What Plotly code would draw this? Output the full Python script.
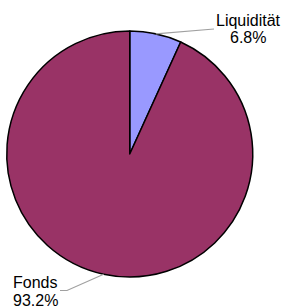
import math
import plotly.graph_objects as go

labels = ["Liquidität", "Fonds"]
values = [6.8, 93.2]
pct_text = ["6.8%", "93.2%"]
colors = ["#9999FF", "#993366"]

W, H = 283, 308
cx, cy, r = 129.75, 154.0, 123.0  # pixel geometry of pie

fig = go.Figure(go.Pie(
    labels=labels, values=values, sort=False, direction="clockwise", rotation=0,
    marker=dict(colors=colors, line=dict(color="#000000", width=1.5)),
    textinfo="none", hoverinfo="label+percent",
    domain=dict(x=[(cx - r) / W, (cx + r) / W], y=[(H - cy - r) / H, (H - cy + r) / H]),
    showlegend=False,
))

# label placement (pixels): (label x, line1 y, line2 y, leader end points)
label_pos = [
    dict(x=248, y1=20, y2=38, ends=[(214, 29)]),
    dict(x=35, y1=282, y2=300, ends=[(67, 290.5), (60, 290.5)]),
]

def px(x):
    return x / W

def py(y):
    return 1 - y / H

total = sum(values)
cum = 0.0
font = dict(family="Liberation Sans, Arial, sans-serif", size=16, color="#000000")
for i, v in enumerate(values):
    mid = (cum + v / 2) / total * 2 * math.pi
    cum += v
    sx = cx + r * math.sin(mid)
    sy = cy - r * math.cos(mid)
    pts = [(sx, sy)] + label_pos[i]["ends"]
    path = "M " + " L ".join(f"{px(a)},{py(b)}" for a, b in pts)
    fig.add_shape(type="path", path=path, xref="paper", yref="paper",
                  line=dict(color="#a0a0a0", width=1.2))
    lp = label_pos[i]
    fig.add_annotation(x=px(lp["x"]), y=py(lp["y1"]), xref="paper", yref="paper",
                       text=labels[i], showarrow=False, font=font,
                       xanchor="center", yanchor="middle")
    fig.add_annotation(x=px(lp["x"]), y=py(lp["y2"]), xref="paper", yref="paper",
                       text=pct_text[i], showarrow=False, font=font,
                       xanchor="center", yanchor="middle")

fig.update_layout(width=W, height=H, margin=dict(l=0, r=0, t=0, b=0),
                  paper_bgcolor="white", plot_bgcolor="white")
fig.write_html("out.html", config={"displayModeBar": False},
               post_script="document.body.style.margin='0';document.body.style.overflow='hidden';")
